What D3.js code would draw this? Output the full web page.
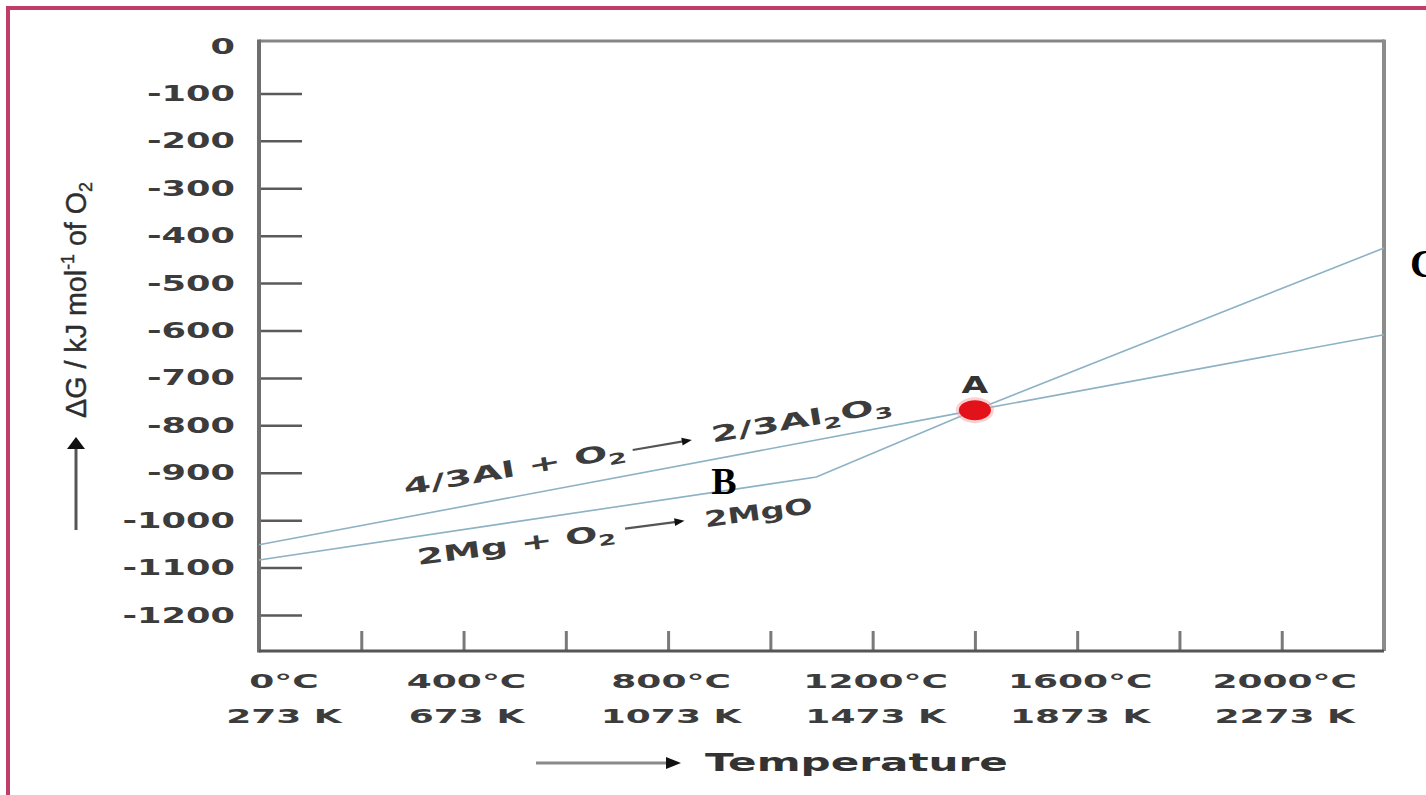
<!DOCTYPE html>
<html><head><meta charset="utf-8">
<script src="https://cdn.jsdelivr.net/npm/d3@7"></script>
<style>html,body{margin:0;padding:0;background:#fff;overflow:hidden}</style>
</head><body>
<svg id="chart" width="1426" height="795"></svg>
<script>
// ---- data ----
const gTicks = [0,-100,-200,-300,-400,-500,-600,-700,-800,-900,-1000,-1100,-1200];
const tempTicks = [200,400,600,800,1000,1200,1400,1600,1800,2000];
const tempLabelValues = [0,400,800,1200,1600,2000];
const celsiusLabels = ["0°C","400°C","800°C","1200°C","1600°C","2000°C"];
const kelvinLabels = ["273 K","673 K","1073 K","1473 K","1873 K","2273 K"];
const alTemps = [0,1400,2200];
const alG = [-1052,-768,-609];
const mgTemps = [0,1090,1400,2200];
const mgG = [-1084,-909,-768,-426];
const pointA = {t:1400, g:-768};

const svg = d3.select("#chart");
const x = d3.scaleLinear().domain([0,2200]).range([259,1384]);
const y = d3.scaleLinear().domain([0,-1200]).range([46,615]);
const frameTop = 41, frameBottom = 651;

const FONT = "'DejaVu Sans', Verdana, sans-serif";
const TXT = "#3c3c3c";

function fit(sel, target){
  const n = sel.node().getComputedTextLength();
  const k = target / n;
  const x0 = +sel.attr("x") || 0;
  sel.attr("x", x0/k).attr("transform", `scale(${k},1)`);
}
function widen(sel, k){
  sel.each(function(){
    const t = d3.select(this);
    const x0 = +t.attr("x") || 0;
    t.attr("x", x0/k).attr("transform", `scale(${k},1)`);
  });
}

// border
svg.append("rect").attr("x",8).attr("y",8).attr("width",1600).attr("height",789)
  .attr("fill","none").attr("stroke","#c13d69").attr("stroke-width",4);

// y axis ticks + labels
const yAxis = d3.axisLeft(y).tickValues(gTicks).tickSize(-43).tickSizeOuter(0)
  .tickPadding(24).tickFormat(d => d === 0 ? "0" : "-" + Math.abs(d));
const gy = svg.append("g").attr("transform",`translate(${x(0)},0)`).call(yAxis);
gy.select(".domain").remove();
gy.selectAll(".tick line").attr("stroke","#5a5a5a").attr("stroke-width",2.5)
  .attr("opacity", d => d === 0 ? 0 : 1);
gy.selectAll(".tick text").attr("font-family",FONT).attr("font-weight","bold")
  .attr("font-size",22).attr("fill",TXT);
widen(gy.selectAll(".tick text"), 1.6);

// x axis ticks
const xAxis = d3.axisBottom(x).tickValues(tempTicks).tickSize(-20).tickSizeOuter(0).tickFormat("");
const gx = svg.append("g").attr("transform",`translate(0,${frameBottom})`).call(xAxis);
gx.select(".domain").remove();
gx.selectAll(".tick line").attr("stroke","#7a7a7a").attr("stroke-width",3);

// x labels
const xl = svg.append("g");
tempLabelValues.forEach((v,i) => {
  const cx = Math.max(x(v) + 3, x(0) + 25);
  xl.append("text").attr("x",cx).attr("y",688).attr("text-anchor","middle")
    .attr("font-family",FONT).attr("font-weight","bold").attr("font-size",20)
    .attr("fill",TXT).text(celsiusLabels[i]);
  xl.append("text").attr("x",cx).attr("y",723).attr("text-anchor","middle")
    .attr("font-family",FONT).attr("font-weight","bold").attr("font-size",20)
    .attr("fill",TXT).text(kelvinLabels[i]);
});
widen(xl.selectAll("text"), 1.8);

// frame
const fr = svg.append("g");
fr.append("line").attr("x1",x(0)).attr("x2",x(2200)).attr("y1",frameTop).attr("y2",frameTop)
  .attr("stroke","#858585").attr("stroke-width",3);
fr.append("line").attr("x1",x(2200)).attr("x2",x(2200)).attr("y1",frameTop-1.5).attr("y2",frameBottom)
  .attr("stroke","#8c8c8c").attr("stroke-width",4);
fr.append("line").attr("x1",x(0)).attr("x2",x(0)).attr("y1",frameTop-1.5).attr("y2",frameBottom+1.5)
  .attr("stroke","#6e6e6e").attr("stroke-width",4);
fr.append("line").attr("x1",x(0)).attr("x2",x(2200)).attr("y1",frameBottom).attr("y2",frameBottom)
  .attr("stroke","#555").attr("stroke-width",3);

// lines
const line = d3.line().x(d => x(d[0])).y(d => y(d[1]));
const alData = alTemps.map((t,i) => [t, alG[i]]);
const mgData = mgTemps.map((t,i) => [t, mgG[i]]);
svg.append("path").datum(alData).attr("d",line).attr("fill","none")
  .attr("stroke","#8cb2c4").attr("stroke-width",1.6);
svg.append("path").datum(mgData).attr("d",line).attr("fill","none")
  .attr("stroke","#8cb2c4").attr("stroke-width",1.6);

// point A
svg.append("ellipse").attr("cx",x(pointA.t)).attr("cy",y(pointA.g)).attr("rx",19).attr("ry",13)
  .attr("fill","#f4a3a6").attr("opacity",0.5);
svg.append("ellipse").attr("cx",x(pointA.t)).attr("cy",y(pointA.g)).attr("rx",16).attr("ry",10)
  .attr("fill","#e3121a");
const aText = svg.append("text").attr("x",x(pointA.t)).attr("y",y(pointA.g)-17)
  .attr("text-anchor","middle").attr("font-family",FONT).attr("font-weight","bold")
  .attr("font-size",23).attr("fill","#333").text("A");
widen(aText, 1.5);

// B and C labels
svg.append("text").attr("x",724).attr("y",494).attr("text-anchor","middle")
  .attr("font-family","'Liberation Serif', 'Times New Roman', serif").attr("font-weight","bold")
  .attr("font-size",38).attr("fill","#000").text("B");
svg.append("text").attr("x",1410).attr("y",277).attr("text-anchor","start")
  .attr("font-family","'Liberation Serif', 'Times New Roman', serif").attr("font-weight","bold")
  .attr("font-size",40).attr("fill","#000").text("C");

// reaction annotations
function reaction(tx, ty, angle, left, leftLen, arrowFrom, arrowTo, arrowY, right, rightStart, rightLen){
  const g = svg.append("g").attr("transform",`translate(${tx},${ty}) rotate(${angle})`);
  const t1 = g.append("text").attr("x",0).attr("y",0).attr("font-family",FONT)
    .attr("font-weight","bold").attr("font-size",22).attr("fill",TXT);
  left(t1);
  fit(t1, leftLen);
  g.append("line").attr("x1",arrowFrom).attr("x2",arrowTo-6).attr("y1",arrowY).attr("y2",arrowY)
    .attr("stroke","#555").attr("stroke-width",2.2);
  g.append("path").attr("d",`M${arrowTo},${arrowY} L${arrowTo-10},${arrowY-4} L${arrowTo-10},${arrowY+4} Z`)
    .attr("fill","#111");
  const t2 = g.append("text").attr("x",rightStart).attr("y",0).attr("font-family",FONT)
    .attr("font-weight","bold").attr("font-size",22).attr("fill",TXT);
  right(t2);
  fit(t2, rightLen);
}
reaction(405, 495, -9.7,
  t => { t.append("tspan").text("4/3Al + O"); t.append("tspan").attr("font-size",15).attr("dy",5).text("2"); },
  225, 232, 292, -6,
  t => { t.append("tspan").text("2/3Al"); t.append("tspan").attr("font-size",15).attr("dy",6).text("2");
         t.append("tspan").attr("dy",-6).text("O"); t.append("tspan").attr("font-size",15).attr("dy",5).text("3"); },
  312, 183);
reaction(418, 565, -7.5,
  t => { t.append("tspan").text("2Mg + O"); t.append("tspan").attr("font-size",15).attr("dy",5).text("2"); },
  200, 210, 270, -9,
  t => { t.append("tspan").text("2MgO"); },
  290, 109);

// y-axis title
const yt = svg.append("g").attr("transform","translate(86,300) rotate(-90)");
const ytt = yt.append("text").attr("x",0).attr("y",0).attr("text-anchor","middle")
  .attr("font-family","'Liberation Sans', Arial, sans-serif").attr("font-size",29).attr("fill","#2e2e2e")
  .attr("stroke","#2e2e2e").attr("stroke-width",0.4);
ytt.append("tspan").text("ΔG / kJ mol");
ytt.append("tspan").attr("font-size",18).attr("dy",-12).text("-1");
ytt.append("tspan").attr("dy",12).text(" of O");
ytt.append("tspan").attr("font-size",18).attr("dy",6).text("2");
fit(ytt, 236);
// y-axis arrow
svg.append("line").attr("x1",76).attr("x2",76).attr("y1",530).attr("y2",446)
  .attr("stroke","#555").attr("stroke-width",3);
svg.append("path").attr("d","M76,437 L67,449 L85,449 Z").attr("fill","#111");

// x-axis title + arrow
svg.append("line").attr("x1",536).attr("x2",668).attr("y1",763).attr("y2",763)
  .attr("stroke","#8a8a8a").attr("stroke-width",3);
svg.append("path").attr("d","M681,763 L666,757 L666,769 Z").attr("fill","#111");
const tt = svg.append("text").attr("x",705).attr("y",771).attr("font-family",FONT)
  .attr("font-weight","bold").attr("font-size",25).attr("fill","#333").text("Temperature");
fit(tt, 303);
</script>
</body></html>
